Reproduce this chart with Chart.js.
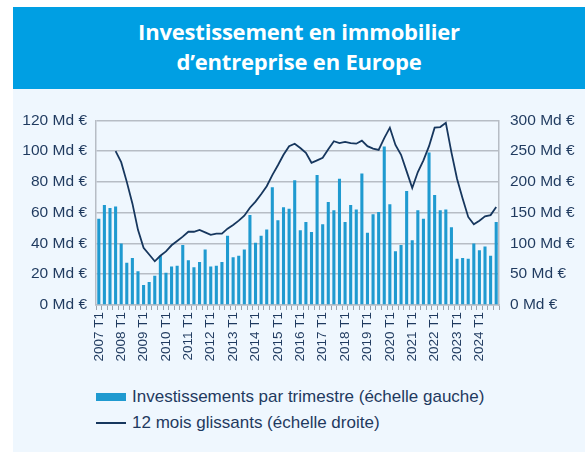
<!DOCTYPE html>
<html>
<head>
<meta charset="utf-8">
<script src="https://cdn.jsdelivr.net/npm/chart.js@4.4.0/dist/chart.umd.min.js"></script>
<style>
  html, body { margin: 0; padding: 0; background: #fff; }
  body { width: 585px; height: 452px; position: relative; overflow: hidden; }
  #banner {
    position: absolute; left: 13px; top: 7px; width: 572px; height: 82px;
    background: #009FE3; color: #fff; text-align: center;
    font-family: "Open Sans", "Noto Sans", sans-serif; font-weight: 700; font-size: 22px;
    line-height: 29.5px; box-sizing: border-box; padding-top: 10px; letter-spacing: -0.2px;
  }
  #panel { position: absolute; left: 13px; top: 89px; width: 572px; height: 363px; background: #EFF7FE; }
  #wrap { position: absolute; left: 12px; top: 100px; width: 573px; height: 275px; }
  .leg { position: absolute; left: 96px; font-family: "Liberation Sans", Arial, sans-serif; font-size: 17px; color: #1F3A5F; }
  .leg span.sw { position: absolute; left: 0; width: 30px; }
  .leg span.tx { position: absolute; left: 36px; white-space: nowrap; top: -10px; }
</style>
</head>
<body>
<div id="banner">Investissement en immobilier<br>d’entreprise en Europe</div>
<div id="panel"></div>
<div id="wrap"><canvas id="chart" width="573" height="275"></canvas></div>
<div class="leg" style="top:397px"><span class="sw" style="top:-4px;height:8px;background:#1F9AD0"></span><span class="tx">Investissements par trimestre (échelle gauche)</span></div>
<div class="leg" style="top:423px"><span class="sw" style="top:-1px;height:1.5px;background:#17375E"></span><span class="tx">12 mois glissants (échelle droite)</span></div>
<script>
  // Categories
  const years = [2007, 2008, 2009, 2010, 2011, 2012, 2013, 2014, 2015,
                 2016, 2017, 2018, 2019, 2020, 2021, 2022, 2023, 2024];
  const quarters = ['T1', 'T2', 'T3', 'T4'];

  // Investissements par trimestre (Md €, left scale)
  const quarterly = [
    56, 65, 63, 64,   40, 27.5, 30.5, 22,   13, 15, 19, 32,   21, 25, 25.5, 39,
    29, 24.5, 28, 36,   25, 25.5, 28, 45,   31, 32, 36, 58.5,   40.5, 45, 49, 76.5,
    55, 63.5, 62.5, 81,   48.5, 54, 47.5, 84.5,   52.5, 67, 61.5, 82,   54, 65, 62, 85.5,
    47, 59, 60.5, 103,   65.5, 35, 39, 74,   42, 61.5, 56, 99,   71.5, 61.5, 62, 50.5,
    30, 30.5, 30, 40,   35.5, 38, 32, 54
  ];

  // 12 mois glissants (Md €, right scale)
  const rolling = [
    null, null, null, 250,   232, 200, 165, 122,   93, 82, 71, 80,   87, 97, 104, 111,
    119, 119, 122, 118,   114, 116, 116, 124,   130, 137, 145, 158,   168, 180, 193, 211,
    227, 244, 258, 262,   255, 247, 231, 235,   239, 253, 266, 263,   265, 263, 262, 267,
    258, 254, 252, 271,   288, 260, 244, 217,   190, 216, 235, 258,   288, 289, 296, 248,
    205, 173, 143, 131,   137, 144, 146, 159
  ];

  const leftTicks = [0, 20, 40, 60, 80, 100, 120];
  const rightTicks = [0, 50, 100, 150, 200, 250, 300];

  const labels = [];
  years.forEach(y => quarters.forEach(q => labels.push(y + ' ' + q)));

  const textColor = '#1F3A5F';
  const gridColor = '#B7BDC5';
  const tickFont = { family: '"Liberation Sans", Arial, sans-serif', size: 15.5 };

  new Chart(document.getElementById('chart'), {
    type: 'bar',
    data: {
      labels: labels,
      datasets: [
        {
          label: '12 mois glissants (échelle droite)',
          type: 'line',
          data: rolling,
          yAxisID: 'y2',
          borderColor: '#17375E',
          borderWidth: 1.8,
          pointRadius: 0,
          tension: 0,
          order: 1
        },
        {
          label: 'Investissements par trimestre (échelle gauche)',
          data: quarterly,
          yAxisID: 'y',
          backgroundColor: '#1F9AD0',
          barPercentage: 0.55,
          categoryPercentage: 1,
          order: 2
        }
      ]
    },
    options: {
      responsive: false,
      animation: false,
      layout: { padding: { top: 19, left: 0, right: 0, bottom: 0 } },
      plugins: { legend: { display: false }, tooltip: { enabled: false } },
      scales: {
        x: {
          offset: true,
          grid: { display: true, offset: true, drawOnChartArea: false, color: '#9AA3AD', tickLength: 5 },
          border: { display: true, color: gridColor, width: 1.5 },
          ticks: {
            autoSkip: false, maxRotation: 90, minRotation: 90, padding: 2,
            color: textColor, font: { family: '"Liberation Sans", Arial, sans-serif', size: 13.5 },
            callback: function(v, i) { return i % 4 === 0 ? labels[i] : ''; }
          },
          afterFit: function(s) { s.height = 70; }
        },
        y: {
          position: 'left',
          min: 0, max: 120,
          afterBuildTicks: function(s) { s.ticks = leftTicks.map(v => ({ value: v })); },
          grid: { color: gridColor, lineWidth: 1.5, drawTicks: false },
          border: { display: true, color: gridColor, width: 1.5 },
          ticks: {
            color: textColor, font: tickFont, padding: 9,
            callback: function(v) { return v + ' Md €'; }
          },
          afterFit: function(s) { s.width = 84; }
        },
        y2: {
          position: 'right',
          min: 0, max: 300,
          afterBuildTicks: function(s) { s.ticks = rightTicks.map(v => ({ value: v })); },
          grid: { drawOnChartArea: false, drawTicks: false },
          border: { display: true, color: gridColor, width: 1.5 },
          ticks: {
            color: textColor, font: tickFont, padding: 11,
            callback: function(v) { return v + ' Md €'; }
          },
          afterFit: function(s) { s.width = 86; }
        }
      }
    }
  });
</script>
</body>
</html>
